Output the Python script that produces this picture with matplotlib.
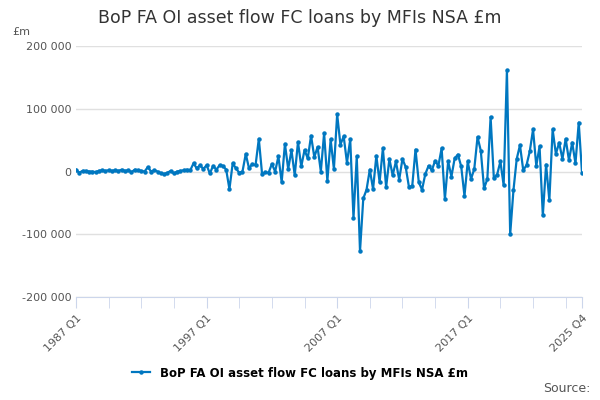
import matplotlib
matplotlib.use("Agg")
import matplotlib.pyplot as plt
import numpy as np

# quarterly values, 1987 Q1 .. 2025 Q4 (thousand £m)
early = [3, -2, 1, 1, 0, 0, -1, 1, 2, 1, 2, 1, 2, 1, 3, 1, 2, -1, 3, 2, 1, 0,
         7, 0, 2, 0, -3, -4, -2, 1, -3, 0, 1, 2, 3, 2,
         13, 5, 10, 4, 10, -3, 9, 3, 10, 9, 3, -28, 13, 5, -2, 0, 28, 5, 12, 10,
         52, -4, -1, -2, 12, 0, 24, -17, 44, 4, 34, -6, 47, 8, 34, 21, 57, 23, 39, 0]
late = [61, -15, 51, 4, 91, 43, 56, 14, 51, -74, 24, -127, -43, -29, 3, -28,
        25, -17, 37, -25, 20, -6, 16, -13, 20, 7, -25, -23, 35, -17, -29, -4,
        9, 2, 17, 9, 37, -44, 16, -8, 21, 27, 8, -39, 16, -12, 4, 55, 33, -27,
        -12, 87, -11, -5, 16, -22, 161, -100, -30, 20, 42, 2, 10, 32, 67, 9,
        40, -70, 11, -46, 67, 28, 46, 20, 52, 18, 46, 13, 78, -2]
values = np.array(early + late) * 1000
n = len(values)
tick_idx = [0, 40, 80, 120, n - 1]
tick_labels = ["1987 Q1", "1997 Q1", "2007 Q1", "2017 Q1", "2025 Q4"]

fig = plt.figure(figsize=(6, 4), dpi=100)
ax = fig.add_axes([76 / 600, 1 - 297 / 400, 506 / 600, 251 / 400])
x = np.arange(n)
ax.plot(x, values, color="#0077c0", lw=1.6, marker="o", ms=2.2,
        label="BoP FA OI asset flow FC loans by MFIs NSA £m")
ax.set_ylim(-200000, 200000)
ax.set_xlim(0, n - 1)
ax.set_yticks([-200000, -100000, 0, 100000, 200000])
ax.set_yticklabels(["-200 000", "-100 000", "0", "100 000", "200 000"])
ax.grid(axis="y", color="#e0e0e0", lw=1)
ax.set_axisbelow(True)
ax.set_xticks(np.arange(0, n, 10), minor=True)
ax.set_xticks(tick_idx)
ax.set_xticklabels(tick_labels, rotation=45, ha="right", rotation_mode="anchor")
for s in ["top", "right", "left"]:
    ax.spines[s].set_visible(False)
ax.spines["bottom"].set_color("#ccd6eb")
ax.tick_params(axis="y", length=0, labelsize=8, colors="#555555")
ax.tick_params(axis="x", which="both", length=8, color="#ccd6eb", labelsize=8,
               colors="#555555")
ax.tick_params(axis="x", which="minor", length=8)

fig.text(0.5, 0.955, "BoP FA OI asset flow FC loans by MFIs NSA £m",
         ha="center", va="center", fontsize=12.5, color="#333333")
fig.text(12 / 600, 1 - 32 / 400, "£m", fontsize=8, color="#555555", va="center")
fig.legend(loc="center", bbox_to_anchor=(0.5, 1 - 373 / 400), frameon=False,
           fontsize=8.5, prop={"weight": "bold", "size": 8.5}, handlelength=1.5)
fig.text(590 / 600, 1 - 389 / 400, "Source:", ha="right", va="center",
         fontsize=9, color="#555555")
fig.savefig("out.png", dpi=100)
